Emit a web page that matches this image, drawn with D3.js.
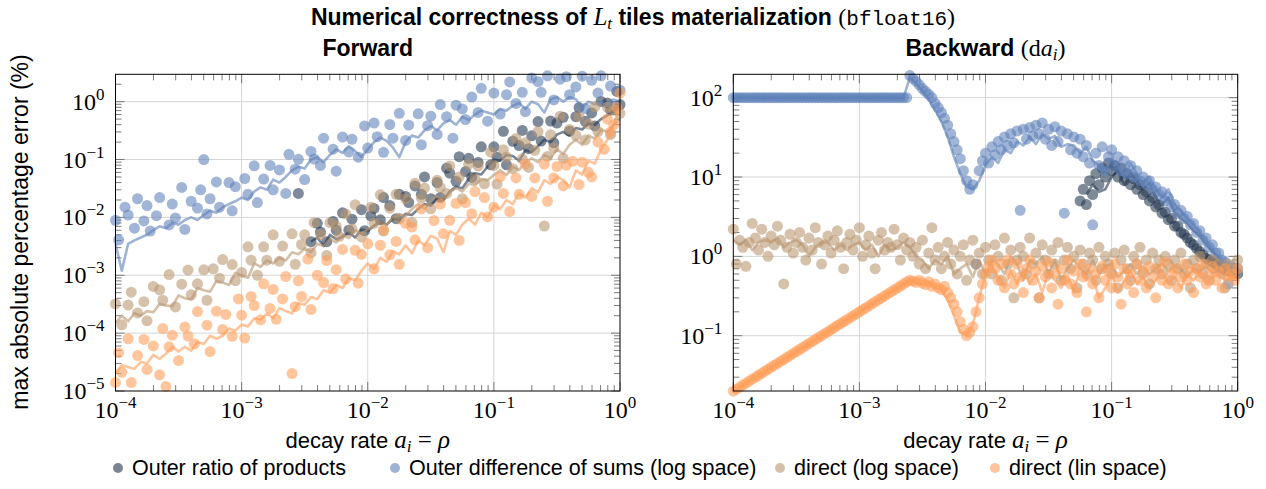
<!DOCTYPE html>
<html>
<head>
<meta charset="utf-8">
<script src="https://cdn.jsdelivr.net/npm/d3@7"></script>
<style>
  html, body { margin: 0; padding: 0; background: #ffffff; }
  svg { display: block; }
</style>
</head>
<body>
<svg id="chart" width="1266" height="489"></svg>
<script>
// Decay rates a_i = rho: log-spaced sweep, 40 per decade (marker samples)
const decayRates = [
  1.000e-4,1.059e-4,1.122e-4,1.189e-4,1.259e-4,1.334e-4,1.413e-4,1.496e-4,1.585e-4,1.679e-4,
  1.778e-4,1.884e-4,1.995e-4,2.113e-4,2.239e-4,2.371e-4,2.512e-4,2.661e-4,2.818e-4,2.985e-4,
  3.162e-4,3.350e-4,3.548e-4,3.758e-4,3.981e-4,4.217e-4,4.467e-4,4.732e-4,5.012e-4,5.309e-4,
  5.623e-4,5.957e-4,6.310e-4,6.683e-4,7.079e-4,7.499e-4,7.943e-4,8.414e-4,8.913e-4,9.441e-4,
  1.000e-3,1.059e-3,1.122e-3,1.189e-3,1.259e-3,1.334e-3,1.413e-3,1.496e-3,1.585e-3,1.679e-3,
  1.778e-3,1.884e-3,1.995e-3,2.113e-3,2.239e-3,2.371e-3,2.512e-3,2.661e-3,2.818e-3,2.985e-3,
  3.162e-3,3.350e-3,3.548e-3,3.758e-3,3.981e-3,4.217e-3,4.467e-3,4.732e-3,5.012e-3,5.309e-3,
  5.623e-3,5.957e-3,6.310e-3,6.683e-3,7.079e-3,7.499e-3,7.943e-3,8.414e-3,8.913e-3,9.441e-3,
  1.000e-2,1.059e-2,1.122e-2,1.189e-2,1.259e-2,1.334e-2,1.413e-2,1.496e-2,1.585e-2,1.679e-2,
  1.778e-2,1.884e-2,1.995e-2,2.113e-2,2.239e-2,2.371e-2,2.512e-2,2.661e-2,2.818e-2,2.985e-2,
  3.162e-2,3.350e-2,3.548e-2,3.758e-2,3.981e-2,4.217e-2,4.467e-2,4.732e-2,5.012e-2,5.309e-2,
  5.623e-2,5.957e-2,6.310e-2,6.683e-2,7.079e-2,7.499e-2,7.943e-2,8.414e-2,8.913e-2,9.441e-2,
  1.000e-1,1.059e-1,1.122e-1,1.189e-1,1.259e-1,1.334e-1,1.413e-1,1.496e-1,1.585e-1,1.679e-1,
  1.778e-1,1.884e-1,1.995e-1,2.113e-1,2.239e-1,2.371e-1,2.512e-1,2.661e-1,2.818e-1,2.985e-1,
  3.162e-1,3.350e-1,3.548e-1,3.758e-1,3.981e-1,4.217e-1,4.467e-1,4.732e-1,5.012e-1,5.309e-1,
  5.623e-1,5.957e-1,6.310e-1,6.683e-1,7.079e-1,7.499e-1,7.943e-1,8.414e-1,8.913e-1,9.441e-1,
  1.000
];
// the averaged curves are reported on every second rate
const lineRates = decayRates.filter((_, i) => i % 2 === 0);

// ---- Forward pass: max absolute percentage error (%) per rate (null = exact, not shown) ----
const fwdRatio = [
  null,null,null,null,null,null,null,null,null,null,
  null,null,null,null,null,null,null,null,null,null,
  null,null,null,null,null,null,null,null,null,null,
  null,null,null,null,null,null,null,null,null,null,
  null,null,null,null,null,null,null,null,null,null,
  null,null,null,null,null,null,null,null,2.6e-2,null,
  null,null,3.8e-3,null,7.9e-3,5.6e-3,null,3.8e-3,null,8.5e-3,
  6.0e-3,null,1.2e-2,null,6.0e-3,9.3e-3,null,null,1.36e-2,5.9e-3,
  null,1.06e-2,1.43e-2,null,9.1e-3,2.2e-2,null,1.6e-2,null,9.5e-3,
  2.5e-2,null,2.3e-2,1.8e-2,null,3.5e-2,null,2.5e-2,5.0e-2,null,
  2.1e-2,null,4.0e-2,2.2e-2,null,7.1e-2,5.8e-2,null,4.2e-2,0.112,
  null,6.2e-2,0.105,4.9e-2,null,8.9e-2,0.166,null,null,8.1e-2,
  0.166,0.11,null,0.307,8.1e-2,null,0.207,null,0.174,0.318,
  null,0.154,0.257,null,0.452,0.208,null,null,0.462,0.194,
  0.427,null,0.537,null,0.309,null,0.55,0.79,null,0.457,
  null,0.638,0.38,null,1.01,null,0.944,0.716,null,1.5,
  0.89
];
const fwdDiff = [
  8.9e-3,4.1e-3,null,1.5e-2,1.1e-2,null,6.5e-3,2.1e-2,null,8.7e-3,
  1.6e-2,5.8e-3,null,1.07e-2,2.2e-2,null,null,7.4e-3,1.7e-2,9.8e-3,
  null,3.3e-2,6.2e-3,null,1.9e-2,null,1.45e-2,3.0e-2,0.10,1.15e-2,
  2.1e-2,null,4.1e-2,1.5e-2,null,null,4.0e-2,1.3e-2,3.4e-2,null,
  null,4.7e-2,2.5e-2,null,7.8e-2,1.8e-2,null,4.6e-2,null,7.9e-2,
  3.0e-2,null,6.6e-2,null,2.6e-2,0.123,null,6.8e-2,0.101,null,
  4.5e-2,null,0.138,0.102,null,7.9e-2,0.234,null,null,0.151,
  6.3e-2,null,0.245,null,0.135,0.224,null,0.11,null,0.38,
  0.158,null,0.427,0.248,null,0.133,null,0.403,0.234,null,
  0.63,null,0.214,0.394,null,null,0.617,0.18,null,0.385,
  0.56,null,0.272,0.89,null,0.55,null,0.234,0.87,null,
  0.75,0.49,null,1.2,null,0.65,1.7,null,0.46,null,
  1.41,null,0.61,null,1.32,2.19,null,0.93,null,1.45,
  0.67,null,2.57,null,2.21,1.45,null,2.8,null,1.07,
  null,2.45,null,2.7,1.32,null,1.8,null,2.75,0.76,
  null,2.34,null,1.41,2.8,null,null,1.86,0.92,null,
  1.58
];
const fwdDirLog = [
  3.2e-4,null,1.39e-4,null,3.05e-4,5.1e-4,null,2.23e-4,null,3.5e-4,
  1.63e-4,null,6.4e-4,null,5.6e-4,3.7e-4,null,1.03e-3,null,2.84e-4,
  null,7.0e-4,null,1.23e-3,4.6e-4,null,7.1e-4,null,1.24e-3,3.7e-4,
  null,1.29e-3,null,8.9e-4,1.87e-3,null,null,1.53e-3,8.1e-4,null,
  1.12e-3,null,3.1e-3,1.82e-3,null,1.0e-3,null,3.1e-3,1.82e-3,null,
  5.0e-3,null,1.74e-3,3.2e-3,null,null,5.2e-3,1.55e-3,null,3.4e-3,
  5.0e-3,null,2.45e-3,8.1e-3,null,5.0e-3,null,2.2e-3,8.1e-3,null,
  7.1e-3,4.7e-3,null,1.15e-2,null,6.3e-3,1.66e-2,null,4.6e-3,null,
  null,1.49e-2,7.9e-3,null,2.45e-2,5.8e-3,null,1.44e-2,null,2.5e-2,
  9.4e-3,null,2.1e-2,null,8.2e-3,3.9e-2,null,2.15e-2,3.2e-2,null,
  1.41e-2,null,4.4e-2,3.3e-2,null,2.6e-2,7.7e-2,null,null,5.0e-2,
  2.1e-2,null,8.3e-2,null,4.6e-2,7.7e-2,null,3.8e-2,null,0.134,
  7.9e-2,3.75e-2,null,0.148,0.111,null,6.96e-2,0.232,null,0.103,
  0.194,7.3e-2,null,0.144,0.304,null,7.1e-3,0.113,0.268,0.159,
  null,0.561,0.105,null,0.331,null,0.262,0.551,null,0.218,
  0.41,null,0.813,0.305,null,null,0.80,0.269,0.712,null,
  0.63
];
const fwdDirLin = [
  1.4e-5,4.6e-5,2.1e-5,null,8.0e-5,1.4e-5,null,4.1e-5,null,7.8e-5,
  2.36e-5,null,6.0e-5,null,1.9e-5,1.2e-4,1.2e-5,5.8e-5,9.2e-5,null,
  3.35e-5,null,1.28e-4,8.9e-5,null,6.5e-5,2.36e-4,null,null,1.37e-4,
  4.8e-5,null,2.4e-4,null,1.15e-4,2.1e-4,null,8.8e-5,null,3.9e-4,
  2.04e-4,8.2e-5,null,4.3e-4,3.0e-4,null,1.69e-4,7.1e-4,null,2.67e-4,
  5.7e-4,1.73e-4,null,3.9e-4,9.5e-4,null,2.0e-5,2.86e-4,8.0e-4,4.3e-4,
  null,1.9e-3,2.56e-4,null,1.0e-3,null,7.5e-4,1.8e-3,null,5.9e-4,
  1.25e-3,null,2.8e-3,8.6e-4,null,null,2.7e-3,7.3e-4,2.3e-3,null,
  3.5e-3,null,1.29e-3,null,3.3e-3,6.1e-3,null,2.26e-3,null,3.85e-3,
  1.55e-3,null,7.9e-3,null,6.8e-3,4.1e-3,null,1.4e-2,null,3.0e-3,
  null,8.8e-3,null,1.7e-2,5.2e-3,null,8.9e-3,null,1.74e-2,4.0e-3,
  null,1.8e-2,null,1.16e-2,2.8e-2,null,null,2.2e-2,1.02e-2,null,
  1.5e-2,null,5.0e-2,2.6e-2,null,1.26e-2,null,4.8e-2,2.5e-2,null,
  8.3e-2,null,2.3e-2,4.8e-2,null,null,8.3e-2,1.9e-2,null,4.8e-2,
  7.6e-2,null,3.5e-2,8.0e-2,null,9.3e-2,null,3.7e-2,9.0e-2,null,
  6.0e-2,5.0e-2,null,0.20,null,0.15,0.50,0.30,0.40,0.79,
  1.41
];
// mean curves (every second rate)
const fwdRatioLine = [
  null,null,null,null,null,null,null,null,null,null,
  null,null,null,null,null,null,null,null,null,null,
  null,null,null,null,null,null,null,null,null,null,
  null,3.8e-3,4.5e-3,3.2e-3,5e-3,4.2e-3,4.6e-3,5.5e-3,4.5e-3,6.2e-3,
  5.8e-3,7.2e-3,8.5e-3,7.5e-3,9.5e-3,9e-3,1.15e-2,1.1e-2,1.4e-2,1.7e-2,
  1.6e-2,2.1e-2,2.0e-2,2.8e-2,3.4e-2,3.2e-2,4.6e-2,5.8e-2,5.5e-2,7.5e-2,
  1.0e-1,9.5e-2,1.2e-1,1.15e-1,9.5e-2,1.45e-1,1.35e-1,1.7e-1,2.2e-1,2.0e-1,
  2.7e-1,3.0e-1,2.6e-1,3.5e-1,3.3e-1,4.2e-1,4.0e-1,5e-1,5.8e-1,7e-1,
  8e-1
];
const fwdDiffLine = [
  3.5e-3,1.2e-3,3.5e-3,4e-3,4.5e-3,5e-3,6e-3,7e-3,6.5e-3,8e-3,
  7.5e-3,9e-3,1.0e-2,9e-3,1.1e-2,1.3e-2,1.2e-2,1.5e-2,1.7e-2,1.9e-2,
  2.2e-2,2.0e-2,2.8e-2,3.3e-2,3.0e-2,4.5e-2,4.0e-2,5.0e-2,6.5e-2,7.5e-2,
  7.0e-2,1.0e-1,1.1e-1,9.0e-2,1.2e-1,1.5e-1,1.3e-1,1.7e-1,1.4e-1,1.1e-1,
  1.5e-1,2.0e-1,2.4e-1,2.1e-1,1.6e-1,1.1e-1,2.0e-1,2.6e-1,2.4e-1,3.2e-1,
  3.8e-1,3.2e-1,4.2e-1,4.8e-1,4.0e-1,5.5e-1,4.8e-1,6.0e-1,7.0e-1,6.5e-1,
  6.0e-1,7.5e-1,7.0e-1,8.5e-1,9.5e-1,7.5e-1,1.0,9.0e-1,6.5e-1,1.1,
  1.2,1.0,1.2,1.1,8.0e-1,1.0,9.0e-1,1.0,8.5e-1,7.0e-1,
  8.0e-1
];
const fwdDirLogLine = [
  1.5e-4,2.0e-4,1.6e-4,2.2e-4,2.0e-4,2.4e-4,2.3e-4,3.2e-4,3.0e-4,2.9e-4,
  4.5e-4,4.0e-4,3.8e-4,6e-4,5.5e-4,5.2e-4,8e-4,7.5e-4,6.8e-4,1.1e-3,
  1.0e-3,9e-4,1.6e-3,1.4e-3,1.8e-3,1.6e-3,2.0e-3,1.8e-3,2.5e-3,2.3e-3,
  2.9e-3,2.5e-3,3.5e-3,3.2e-3,4.2e-3,3.7e-3,5e-3,4.4e-3,6e-3,5.2e-3,
  6.2e-3,7e-3,8.5e-3,7.5e-3,1.0e-2,1.15e-2,1.05e-2,1.4e-2,1.7e-2,1.4e-2,
  2.0e-2,2.3e-2,2.0e-2,2.7e-2,3.2e-2,2.8e-2,3.8e-2,3.6e-2,4.6e-2,4.4e-2,
  5.4e-2,6.5e-2,5.4e-2,7.5e-2,6.6e-2,9e-2,1.05e-1,9e-2,1.2e-1,1.05e-1,
  1.5e-1,1.25e-1,1.8e-1,2.2e-1,1.8e-1,2.6e-1,2.3e-1,3.3e-1,3.0e-1,4.0e-1,
  5e-1
];
const fwdDirLinLine = [
  2.0e-5,2.8e-5,2.6e-5,2.4e-5,3.2e-5,3.0e-5,4.2e-5,3.6e-5,4.4e-5,5.8e-5,
  4.8e-5,5.8e-5,5.0e-5,7e-5,6.5e-5,9e-5,8e-5,9e-5,1.2e-4,1.1e-4,
  1.4e-4,1.3e-4,1.8e-4,1.7e-4,2.2e-4,1.8e-4,2.7e-4,2.4e-4,2.2e-4,3.3e-4,
  3.1e-4,4.2e-4,3.9e-4,5.5e-4,5e-4,6.8e-4,6e-4,9e-4,8.2e-4,1.2e-3,
  1.6e-3,1.3e-3,2.0e-3,1.7e-3,2.6e-3,2.3e-3,3.3e-3,2.4e-3,4e-3,3.3e-3,
  4.8e-3,4.3e-3,2.5e-3,5.8e-3,5e-3,7.5e-3,9.5e-3,7.5e-3,1.2e-2,1.0e-2,
  1.6e-2,1.4e-2,2.0e-2,1.7e-2,2.6e-2,2.2e-2,3.2e-2,2.7e-2,4.4e-2,3.8e-2,
  5e-2,4.4e-2,3.3e-2,6.5e-2,5.5e-2,9.5e-2,8.5e-2,1.5e-1,2.2e-1,4e-1,
  8e-1
];

// ---- Backward pass (d a_i): max absolute percentage error (%) per rate ----
const bwdRatio = [
  null,null,null,null,null,null,null,null,null,null,
  null,null,null,null,null,null,null,null,null,null,
  null,null,null,null,null,null,null,null,null,null,
  null,null,null,null,null,null,null,null,null,null,
  null,null,null,null,null,null,null,null,null,null,
  null,null,null,null,null,null,null,null,null,null,
  null,null,null,null,null,null,null,null,null,null,
  null,null,null,null,null,null,null,null,null,null,
  null,null,null,null,null,null,null,null,null,null,
  null,null,null,null,null,null,null,null,null,null,
  null,null,null,null,null,null,null,null,null,null,
  5,7,4.5,9,6,11,8,13,10,15,
  12,14,10,13,9,11,8,9.5,7,8,
  6,6.5,5,5.5,4.2,4.5,3.5,3.6,2.9,3.0,
  2.4,2.4,2.0,1.9,1.7,1.5,1.4,1.25,1.15,1.05,
  0.95,0.9,0.85,0.8,0.75,0.72,0.68,0.66,0.64,0.62,
  0.6
];
const bwdDiff = [
  100,100,100,100,100,100,100,100,100,100,
  100,100,100,100,100,100,100,100,100,100,
  100,100,100,100,100,100,100,100,100,100,
  100,100,100,100,100,100,100,100,100,100,
  100,100,100,100,100,100,100,100,100,100,
  100,100,100,100,100,100,190,175,160,145,
  130,120,110,100,85,75,65,55,45,35,
  28,22,17,12,9,7,8,0.8,12,16,
  20,15,24,19,28,22,32,25,35,27,
  38,3.8,40,30,42,33,45,35,48,30,
  40,25,43,28,38,3.5,35,22,32,20,
  30,18,25,15,2.5,20,14,24,12,18,
  22,14,18,12,16,11,14,10,12,9,
  10,8,9,7,7.5,6,6.5,5,5.5,4.2,
  4.5,3.5,3.8,3,3.2,2.5,2.6,2,2.1,1.6,
  1.7,1.3,1.4,1.1,1.1,0.9,0.85,0.45,0.75,0.65,
  0.7
];
const bwdDirLog = [
  2.2,0.8,1.6,1.3,0.75,1.5,2.6,1.7,1.2,2.2,
  1.5,1.0,1.8,1.4,2.4,1.6,0.45,1.3,1.9,1.1,
  1.5,2.0,1.3,0.9,1.7,1.2,2.3,1.5,0.8,1.4,
  1.8,1.1,1.6,2.1,1.3,0.7,1.5,1.9,1.2,1.6,
  2.3,1.0,1.4,1.8,1.1,0.7,1.6,2.0,1.2,1.5,
  1.3,2.2,1.4,0.9,1.7,1.2,1.5,1.0,1.3,0.8,
  1.6,0.7,1.1,2.3,0.9,1.3,0.7,1.0,1.5,0.8,
  1.2,0.6,1.0,1.4,0.5,0.9,1.6,0.8,1.1,0.6,
  1.3,0.9,0.6,1.4,1.0,0.5,1.7,0.8,1.2,0.3,
  0.9,1.3,1.0,0.6,1.7,0.8,1.1,0.3,1.4,0.9,
  0.6,1.2,0.8,1.5,0.5,0.9,1.3,0.7,1.0,0.4,
  1.2,0.8,0.6,1.1,0.9,0.5,1.3,0.7,1.0,0.8,
  0.6,1.1,0.4,0.9,1.2,0.7,0.5,1.0,0.8,1.3,
  0.6,0.9,0.45,1.1,0.7,0.9,0.6,1.0,0.8,0.5,
  0.9,0.7,1.1,0.6,0.8,0.4,0.9,0.7,1.0,0.6,
  0.8,0.5,0.9,0.7,0.8,0.6,0.4,0.8,0.7,0.6,
  0.9
];
const bwdDirLin = [
  0.0200,0.0212,0.0224,0.0238,0.0252,0.0267,0.0283,0.0299,0.0317,0.0336,
  0.0356,0.0377,0.0399,0.0423,0.0448,0.0474,0.0502,0.0532,0.0564,0.0597,
  0.0632,0.0670,0.0710,0.0752,0.0796,0.0843,0.0893,0.0946,0.100,0.106,
  0.112,0.119,0.126,0.134,0.142,0.150,0.159,0.168,0.178,0.189,
  0.200,0.212,0.224,0.238,0.252,0.267,0.283,0.299,0.317,0.336,
  0.356,0.377,0.399,0.423,0.448,0.474,0.50,0.49,0.47,0.50,
  0.46,0.44,0.48,0.42,0.45,0.40,0.38,0.42,0.35,0.30,
  0.25,0.20,0.15,0.12,0.10,0.11,0.13,0.20,0.30,0.45,
  0.60,0.75,0.90,0.70,0.50,0.80,0.40,0.90,0.60,0.45,
  0.80,0.55,0.35,0.70,0.90,0.50,0.65,0.30,0.75,0.55,
  0.85,0.40,0.60,0.25,0.70,0.50,0.90,0.45,0.65,0.35,
  0.80,0.55,0.20,0.70,0.45,0.60,0.30,0.75,0.50,0.65,
  0.40,0.80,0.55,0.25,0.70,0.45,0.60,0.35,0.80,0.50,
  0.65,0.40,0.75,0.55,0.30,0.70,0.50,0.85,0.45,0.60,
  0.70,0.40,0.55,0.80,0.50,0.65,0.35,0.70,0.55,0.80,
  0.45,0.60,0.75,0.50,0.65,0.40,0.70,0.55,0.60,0.50,
  0.70
];
// mean curves (every second rate)
const bwdRatioLine = [
  null,null,null,null,null,null,null,null,null,null,
  null,null,null,null,null,null,null,null,null,null,
  null,null,null,null,null,null,null,null,null,null,
  null,null,null,null,null,null,null,null,null,null,
  null,null,null,null,null,null,null,null,null,null,
  null,null,null,null,null,null,6,8,6.5,7,
  10,12,8,11,9,7,8.5,5.5,4.5,5.5,
  3.6,3,2.6,2.1,1.8,1.4,1.15,0.95,0.8,0.65,
  0.6
];
const bwdDiffLine = [
  100,100,100,100,100,100,100,100,100,100,
  100,100,100,100,100,100,100,100,100,100,
  100,100,100,100,100,100,100,100,180,150,
  120,95,70,50,32,18,11,7.5,7,9,
  14,18,15,22,20,28,25,32,26,35,
  30,33,24,26,25,20,24,16,14,12,
  17,14,10,15,11,8,10,7,5.5,7,
  4.5,3.8,3,2.5,2,1.6,1.2,1.0,0.8,0.6,
  0.7
];
const bwdDirLogLine = [
  1.6,1.4,1.6,1.2,1.5,1.6,1.5,1.7,1.3,1.5,
  1.6,1.4,1.0,1.3,1.5,1.5,1.2,1.4,1.2,1.4,
  1.5,1.2,1.4,1.0,1.4,1.2,1.3,1.5,1.3,1.0,
  0.9,0.7,0.9,0.8,1.0,0.6,0.7,0.8,0.55,0.9,
  0.6,0.9,0.8,0.6,1.0,0.8,0.5,0.9,0.8,1.0,
  0.6,0.9,0.5,0.7,0.9,0.7,0.6,0.9,0.6,0.75,
  0.8,0.55,0.65,0.8,0.6,0.75,0.6,0.7,0.8,0.65,
  0.75,0.7,0.55,0.7,0.65,0.75,0.6,0.7,0.7,0.55,
  0.6
];
const bwdDirLinLine = [
  0.020,0.0224,0.0251,0.0282,0.0316,0.0355,0.0398,0.0447,0.0501,0.0562,
  0.0631,0.0708,0.0794,0.0891,0.100,0.112,0.126,0.141,0.158,0.178,
  0.200,0.224,0.251,0.282,0.316,0.355,0.398,0.447,0.50,0.47,
  0.44,0.48,0.40,0.38,0.28,0.18,0.11,0.10,0.14,0.30,
  0.60,0.75,0.55,0.40,0.65,0.45,0.70,0.45,0.60,0.35,
  0.65,0.50,0.40,0.60,0.35,0.70,0.50,0.55,0.30,0.40,
  0.60,0.35,0.50,0.65,0.45,0.55,0.40,0.50,0.65,0.45,
  0.55,0.40,0.60,0.50,0.65,0.45,0.55,0.60,0.50,0.55,
  0.50
];

const seriesNames = [
  "Outer ratio of products",
  "Outer difference of sums (log space)",
  "direct (log space)",
  "direct (lin space)"
];
const seriesColors = ["#22354f", "#5d80b8", "#b8956f", "#ff9d58"];

const yTicksFwd = [1e-5, 1e-4, 1e-3, 1e-2, 1e-1, 1];
const yTicksBwd = [1e-1, 1, 10, 100];
const xTicks = [1e-4, 1e-3, 1e-2, 1e-1, 1];

// ---------------------------------------------------------------
const SANS = "'Liberation Sans', Arial, Helvetica, sans-serif";
const SERIF = "'Liberation Serif', 'Times New Roman', serif";
const MONO = "'Liberation Mono', 'DejaVu Sans Mono', monospace";
const FS = 21.5;

const svg = d3.select("#chart");

// Rich text helper: segments with optional font/size/baseline shift
function richText(parent, x, y, segs, anchor, rotate) {
  const t = parent.append("text")
    .attr("x", x).attr("y", y)
    .attr("text-anchor", anchor || "middle")
    .attr("fill", "#000");
  if (rotate) t.attr("transform", `rotate(${rotate},${x},${y})`);
  let shift = 0;
  segs.forEach(s => {
    const sp = t.append("tspan")
      .attr("font-family", s.f || SANS)
      .attr("font-size", s.s || FS)
      .attr("font-weight", s.w || "normal")
      .attr("font-style", s.i ? "italic" : "normal")
      .text(s.t);
    const target = s.dy || 0;
    if (target !== shift) { sp.attr("dy", target - shift); shift = target; }
  });
  return t;
}

// Main title
richText(svg, 633, 25, [
  { t: "Numerical correctness of ", w: "bold", s: 23 },
  { t: "L", f: SERIF, i: true, s: 25 },
  { t: "t", f: SERIF, i: true, s: 17, dy: 4 },
  { t: " tiles materialization ", w: "bold", s: 23 },
  { t: "(", f: SERIF, s: 24 },
  { t: "bfloat16", f: MONO, s: 21 },
  { t: ")", f: SERIF, s: 24 }
]);

function drawPanel(opt) {
  const { x0, x1, y0, y1, yDomain, yTicks, series, title } = opt;
  const g = svg.append("g");
  const x = d3.scaleLog().domain([1e-4, 1]).range([x0, x1]);
  const y = d3.scaleLog().domain(yDomain).range([y1, y0]);

  // major grid
  g.append("g").selectAll("line").data(xTicks.slice(1, -1)).join("line")
    .attr("x1", d => x(d)).attr("x2", d => x(d)).attr("y1", y0).attr("y2", y1)
    .attr("stroke", "#d6d6d6").attr("stroke-width", 1);
  g.append("g").selectAll("line").data(yTicks.filter(v => y(v) > y0 + 1 && y(v) < y1 - 1)).join("line")
    .attr("x1", x0).attr("x2", x1).attr("y1", d => y(d)).attr("y2", d => y(d))
    .attr("stroke", "#d6d6d6").attr("stroke-width", 1);

  // minor + major ticks, inward on all four sides
  const minorX = [];
  for (let e = -4; e < 0; e++) for (let m = 2; m <= 9; m++) minorX.push(m * Math.pow(10, e));
  const [ylo, yhi] = yDomain;
  const minorY = [];
  for (let e = Math.floor(Math.log10(ylo)); e <= Math.ceil(Math.log10(yhi)); e++)
    for (let m = 2; m <= 9; m++) { const v = m * Math.pow(10, e); if (v > ylo && v < yhi) minorY.push(v); }
  const tk = g.append("g").attr("stroke", "#6e6e6e").attr("stroke-width", 0.9);
  const mL = 6, ML = 9;
  minorX.forEach(v => {
    tk.append("line").attr("x1", x(v)).attr("x2", x(v)).attr("y1", y1).attr("y2", y1 - mL);
    tk.append("line").attr("x1", x(v)).attr("x2", x(v)).attr("y1", y0).attr("y2", y0 + mL);
  });
  xTicks.forEach(v => {
    tk.append("line").attr("x1", x(v)).attr("x2", x(v)).attr("y1", y1).attr("y2", y1 - ML);
    tk.append("line").attr("x1", x(v)).attr("x2", x(v)).attr("y1", y0).attr("y2", y0 + ML);
  });
  minorY.forEach(v => {
    tk.append("line").attr("y1", y(v)).attr("y2", y(v)).attr("x1", x0).attr("x2", x0 + mL);
    tk.append("line").attr("y1", y(v)).attr("y2", y(v)).attr("x1", x1).attr("x2", x1 - mL);
  });
  yTicks.forEach(v => {
    tk.append("line").attr("y1", y(v)).attr("y2", y(v)).attr("x1", x0).attr("x2", x0 + ML);
    tk.append("line").attr("y1", y(v)).attr("y2", y(v)).attr("x1", x1).attr("x2", x1 - ML);
  });

  // series: mean curve then per-rate markers
  series.forEach((s, i) => {
    const col = seriesColors[i];
    const lineGen = d3.line()
      .defined(d => d[1] != null)
      .x(d => x(d[0])).y(d => y(d[1]));
    g.append("path")
      .datum(lineRates.map((r, k) => [r, s.line[k]]))
      .attr("d", lineGen)
      .attr("fill", "none").attr("stroke", col)
      .attr("stroke-width", 2.6).attr("stroke-opacity", 0.6)
      .attr("stroke-linejoin", "round");
    g.append("g").selectAll("circle")
      .data(decayRates.map((r, k) => [r, s.pts[k]]).filter(d => d[1] != null))
      .join("circle")
      .attr("cx", d => x(d[0])).attr("cy", d => y(d[1])).attr("r", 5.5)
      .attr("fill", col).attr("fill-opacity", 0.58);
  });

  // frame
  g.append("rect").attr("x", x0).attr("y", y0).attr("width", x1 - x0).attr("height", y1 - y0)
    .attr("fill", "none").attr("stroke", "#000").attr("stroke-width", 1);

  // tick labels
  const exp = v => Math.round(Math.log10(v));
  const fmtExp = e => (e < 0 ? "\u2212" + (-e) : String(e));
  xTicks.forEach(v => {
    richText(g, x(v), 418, [
      { t: "10", f: SERIF, s: 24 },
      { t: fmtExp(exp(v)), f: SERIF, s: 17, dy: -10 }
    ]);
  });
  yTicks.forEach(v => {
    richText(g, x0 - 11, y(v) + 8, [
      { t: "10", f: SERIF, s: 24 },
      { t: fmtExp(exp(v)), f: SERIF, s: 17, dy: -10 }
    ], "end");
  });

  // x axis label
  const cx = (x0 + x1) / 2;
  richText(g, cx, 448, [
    { t: "decay rate ", s: 22 },
    { t: "a", f: SERIF, i: true, s: 25 },
    { t: "i", f: SERIF, i: true, s: 17, dy: 4 },
    { t: " = ", f: SERIF, s: 25 },
    { t: "\u03C1", f: SERIF, i: true, s: 25 }
  ]);

  // panel title
  richText(g, cx, 56, title);
}

drawPanel({
  x0: 115.5, x1: 620, y0: 74.3, y1: 391,
  yDomain: [1e-5, 2.97], yTicks: yTicksFwd,
  title: [{ t: "Forward", w: "bold", s: 23 }],
  series: [
    { pts: fwdRatio, line: fwdRatioLine },
    { pts: fwdDiff, line: fwdDiffLine },
    { pts: fwdDirLog, line: fwdDirLogLine },
    { pts: fwdDirLin, line: fwdDirLinLine }
  ]
});
drawPanel({
  x0: 733.3, x1: 1237.7, y0: 74.3, y1: 391,
  yDomain: [0.0201, 197], yTicks: yTicksBwd,
  title: [
    { t: "Backward ", w: "bold", s: 23 },
    { t: "(d", f: SERIF, s: 24 },
    { t: "a", f: SERIF, i: true, s: 24 },
    { t: "i", f: SERIF, i: true, s: 17, dy: 4 },
    { t: ")", f: SERIF, s: 24 }
  ],
  series: [
    { pts: bwdRatio, line: bwdRatioLine },
    { pts: bwdDiff, line: bwdDiffLine },
    { pts: bwdDirLog, line: bwdDirLogLine },
    { pts: bwdDirLin, line: bwdDirLinLine }
  ]
});

// y axis label
richText(svg, 28, 232, [{ t: "max absolute percentage error (%)", s: 23 }], "middle", -90);

// legend
const legendX = [118, 395, 780, 995];
const lg = svg.append("g");
seriesNames.forEach((name, i) => {
  lg.append("circle").attr("cx", legendX[i]).attr("cy", 468).attr("r", 5)
    .attr("fill", seriesColors[i]).attr("fill-opacity", 0.6);
  lg.append("text").attr("x", legendX[i] + 14).attr("y", 475)
    .attr("font-family", SANS).attr("font-size", FS).attr("fill", "#000")
    .text(name);
});
</script>
</body>
</html>
